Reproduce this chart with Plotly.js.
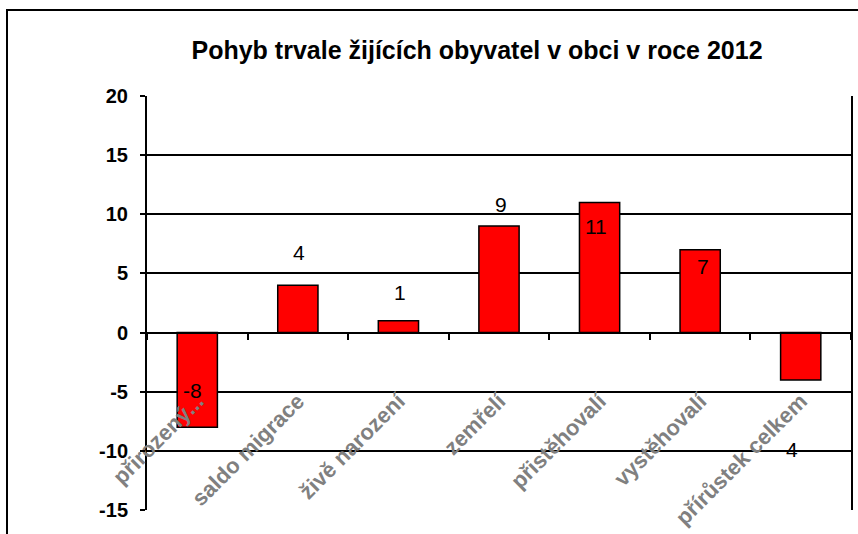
<!DOCTYPE html>
<html>
<head>
<meta charset="utf-8">
<script src="https://cdn.plot.ly/plotly-3.0.1.min.js"></script>
<style>html,body{margin:0;padding:0;background:#fff;}#chart{width:858px;height:534px;}</style>
</head>
<body>
<div id="chart"></div>
<script>
const categories = ["přirozený...", "saldo migrace", "živě narození", "zemřelí", "přistěhovalí", "vystěhovalí", "přírůstek celkem"];
const values = [-8, 4, 1, 9, 11, 7, -4];
const yTickValues = [-15, -10, -5, 0, 5, 10, 15, 20];
const chartTitle = "Pohyb trvale žijících obyvatel v obci v roce 2012";

// label placement offsets in pixels (Excel-like odd placement)
const labelDx = [-5, 1, 2, 2, -4, 3, -12];
const labelDy = [37, 33, 28, 22, -24, -17, -70];

const FONT = "Liberation Sans, Arial, sans-serif";

const trace = {
  type: "bar",
  x: categories,
  y: values,
  marker: {color: "#FF0000", line: {color: "#000000", width: 1.5}},
  hoverinfo: "x+y",
  showlegend: false
};

const annotations = categories.map((c, i) => ({
  x: c, y: values[i], xref: "x", yref: "y",
  text: String(values[i]),
  showarrow: false,
  xshift: labelDx[i], yshift: labelDy[i],
  font: {family: FONT, size: 21, color: "#000000"}
}));

const layout = {
  width: 858, height: 534,
  margin: {l: 147, r: 7, t: 96, b: 24},
  paper_bgcolor: "#ffffff", plot_bgcolor: "#ffffff",
  bargap: 0.6,
  title: {
    text: "<b>" + chartTitle + "</b>",
    font: {family: FONT, size: 25, color: "#000000"},
    xref: "container", x: 0.556, xanchor: "center",
    yref: "container", y: 1 - 50 / 534, yanchor: "middle"
  },
  xaxis: {
    type: "category",
    anchor: "free", position: 15 / 35,
    showline: true, linecolor: "#000000", linewidth: 2,
    ticks: "outside", tickson: "boundaries", ticklen: 6, tickcolor: "#000000", tickwidth: 2,
    tickangle: -45,
    ticklabelstandoff: 46,
    tickfont: {family: FONT, size: 22, color: "#808080", weight: "bold"},
    showgrid: false, zeroline: false, fixedrange: true
  },
  yaxis: {
    range: [-15, 20],
    tickvals: yTickValues,
    ticktext: yTickValues.map(String),
    showline: true, mirror: true, linecolor: "#000000", linewidth: 2,
    ticks: "outside", ticklen: 5, tickcolor: "#000000", tickwidth: 2,
    ticklabelstandoff: 8,
    tickfont: {family: FONT, size: 20, color: "#000000", weight: "bold"},
    showgrid: true, gridcolor: "#000000", gridwidth: 2,
    zeroline: true, zerolinecolor: "#000000", zerolinewidth: 2,
    fixedrange: true
  },
  annotations: annotations,
  shapes: [{
    type: "rect", xref: "paper", yref: "paper",
    x0: (7 - 147) / 704, x1: 1.05, y0: -0.2, y1: (510 - 10) / 414,
    line: {color: "#000000", width: 2}, fillcolor: "rgba(0,0,0,0)", layer: "below"
  }]
};

Plotly.newPlot("chart", [trace], layout, {displayModeBar: false, staticPlot: true});
</script>
</body>
</html>
